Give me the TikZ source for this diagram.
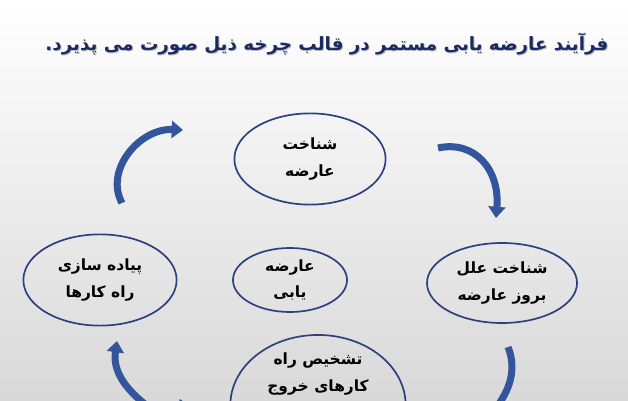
\documentclass[tikz,border=0pt]{standalone}
\usepackage{fontspec}
\usepackage{tikz}
\usetikzlibrary{shapes.geometric, arrows.meta}
\TeXXeTstate=1
\newfontfamily\arabicfont[Script=Arabic]{DejaVu Sans}
\definecolor{rimblue}{RGB}{47,63,127}
\definecolor{arrowblue}{RGB}{50,85,155}
\definecolor{titleblue}{RGB}{28,42,98}
\tikzstyle{cyclearrow} = [draw=arrowblue, line width=5pt, -{Triangle[width=12pt,length=8pt]}]

\begin{document}
\begin{tikzpicture}[x=0.025cm, y=0.025cm,
		phase/.style={
			draw=rimblue,
			line width=1.2pt,
			ellipse,
			inner sep=0pt},
		phasetext/.style={
			align=center,
			font=\arabicfont\bfseries\fontsize{11}{19}\selectfont},
		heading/.style={
			font=\arabicfont\bfseries\fontsize{13}{18}\selectfont}]
		\shade [top color=white, bottom color=gray!30] (0,0) rectangle (628,400);
		\useasboundingbox (0,0) rectangle (628,400);
		\clip (0,0) rectangle (628,400);

		% title with its shadow
		\node (titleshadow) [heading, text=gray!55] at (328,355) {\beginR فرآیند عارضه یابی مستمر در قالب چرخه ذیل صورت می پذیرد.\endR};
		\node (title) [heading, text=titleblue] at (327,356) {\beginR فرآیند عارضه یابی مستمر در قالب چرخه ذیل صورت می پذیرد.\endR};

		% the cycle
		\node (detect) [phase, minimum width=3.78cm, minimum height=2.28cm, label={[phasetext]center:{\beginR شناخت\endR\\\beginR عارضه\endR}}] at (310,241) {};
		\node (cause) [phase, minimum width=3.75cm, minimum height=2cm, label={[phasetext]center:{\beginR شناخت علل\endR\\\beginR بروز عارضه\endR}}] at (502,117) {};
		\node (apply) [phase, minimum width=3.83cm, minimum height=2.28cm, label={[phasetext]center:{\beginR پیاده سازی\endR\\\beginR راه کارها\endR}}] at (100,120) {};
		\node (core) [phase, minimum width=2.85cm, minimum height=1.6cm, label={[phasetext]center:{\beginR عارضه\endR\\\beginR یابی\endR}}] at (290,120) {};
		\node (exit) [phase, minimum width=4.38cm, minimum height=3.5cm] at (318,-5) {};
		\node (exittext) [phasetext] at (318,26) {\beginR تشخیص راه\endR\\\beginR کارهای خروج\endR};

		\coordinate (tl1) at (122,197);
		\coordinate (tl2) at (183,270);
		\coordinate (tr1) at (438,252);
		\coordinate (tr2) at (496,182);
		\coordinate (br1) at (508,53);
		\coordinate (br2) at (490,-15);
		\coordinate (br3) at (180,1);
		\coordinate (bl1) at (185,-30);
		\coordinate (bl2) at (117,59);

		\draw [cyclearrow] (tl1) .. controls (104,230) and (140,272) .. (tl2);
		\draw [cyclearrow] (tr1) .. controls (475,260) and (500,230) .. (tr2);
		\draw [cyclearrow] (br1) .. controls (518,28) and (508,5) .. (br2) .. controls (420,-80) and (200,-70) .. (br3);
		\draw [cyclearrow] (bl1) .. controls (130,0) and (112,25) .. (bl2);

	\end{tikzpicture}
\end{document}
